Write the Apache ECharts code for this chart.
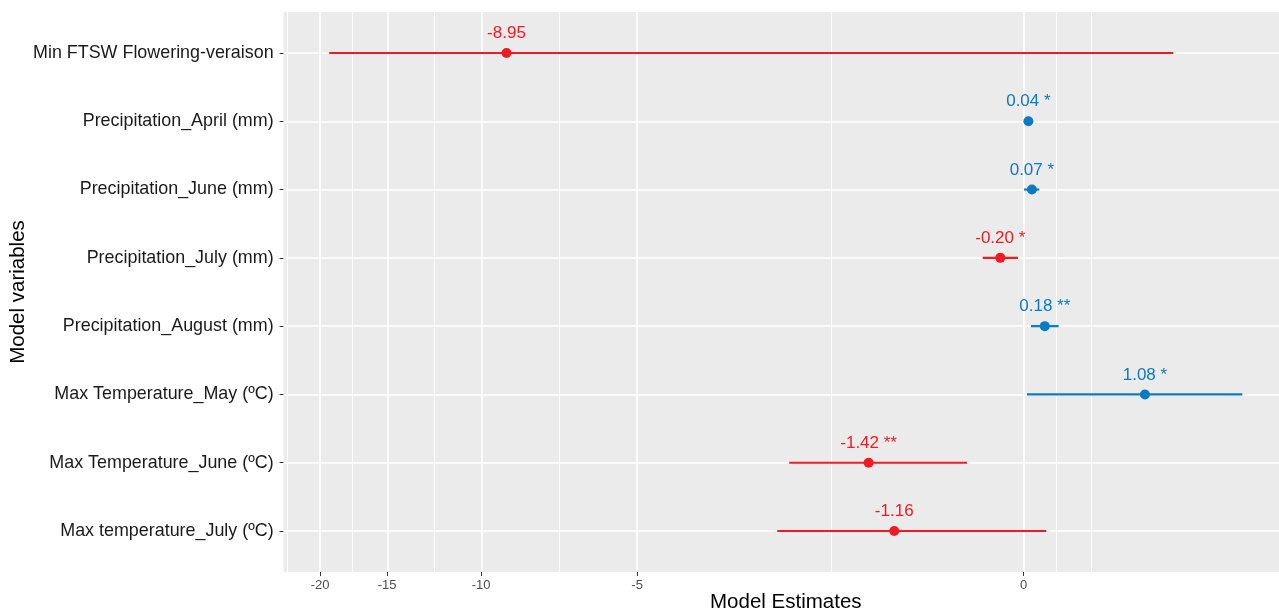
<!DOCTYPE html>
<html><head><meta charset="utf-8">
<script src="https://cdn.jsdelivr.net/npm/echarts@6/dist/echarts.min.js"></script>
<style>html,body{margin:0;padding:0;background:#fff}#c{width:1279px;height:613px}</style>
</head><body><div id="c"></div>
<script>
// ---- data ----
const categories = [
  "Min FTSW Flowering-veraison",
  "Precipitation_April (mm)",
  "Precipitation_June (mm)",
  "Precipitation_July (mm)",
  "Precipitation_August (mm)",
  "Max Temperature_May (ºC)",
  "Max Temperature_June (ºC)",
  "Max temperature_July (ºC)"
];
const estimates = [-8.95, 0.04, 0.07, -0.20, 0.18, 1.08, -1.42, -1.16];
const lower = [-19.23, 0.01, 0.003, -0.351, 0.062, 0.028, -2.347, -2.508];
const upper = [1.363, 0.07, 0.133, -0.049, 0.299, 2.145, -0.488, 0.193];
const significance = ["", "*", "*", "*", "**", "*", "**", ""];
const xTickLabels = [-20, -15, -10, -5, 0];

// ---- pseudo-log (asinh) transform, sigma = 1 ----
const tr = v => Math.asinh(v / 2);
const inv = t => 2 * Math.sinh(t);

const RED = '#ED1C24', BLUE = '#0A7BC2';
const FONT = '"Liberation Sans", Arial, sans-serif';
const colorOf = v => v < 0 ? RED : BLUE;

const allT = lower.concat(upper).map(tr);
const tMin = Math.min(...allT), tMax = Math.max(...allT);
const pad = (tMax - tMin) * 0.05;
const xMin = tMin - pad, xMax = tMax + pad;

const majorT = xTickLabels.map(tr);
const bd = majorT[1] - majorT[0];
const ext = [majorT[0] - bd].concat(majorT, [majorT[majorT.length - 1] + bd]);
const minorT = [];
for (let i = 0; i < ext.length - 1; i++) minorT.push((ext[i] + ext[i + 1]) / 2);
const minorIn = minorT.concat([ext[ext.length - 1]]).filter(t => t > xMin && t < xMax);

const yVals = categories.map((_, i) => i + 1);

const gridLines = []
  .concat(minorIn.map(t => ({ xAxis: t, lineStyle: { color: '#fff', width: 0.9, type: 'solid' } })))
  .concat(majorT.map(t => ({ xAxis: t, lineStyle: { color: '#fff', width: 1.6, type: 'solid' } })))
  .concat(yVals.map(y => ({ yAxis: y, lineStyle: { color: '#fff', width: 1.6, type: 'solid' } })));

const chart = echarts.init(document.getElementById('c'), null, { renderer: 'canvas' });
chart.setOption({
  animation: false,
  backgroundColor: '#fff',
  grid: { left: 283.6, top: 12, bottom: 41, right: -9, show: true, backgroundColor: '#EBEBEB', borderWidth: 0,
          containLabel: false, outerBoundsMode: 'none' },
  xAxis: {
    type: 'value', min: xMin, max: xMax,
    axisLine: { show: false, onZero: false }, splitLine: { show: false },
    axisTick: { show: true, customValues: majorT, length: 4, lineStyle: { color: '#333', width: 1 } },
    axisLabel: { customValues: majorT, formatter: v => String(Math.round(inv(v))), color: '#4D4D4D', fontSize: 13, margin: 7, fontFamily: FONT },
    name: 'Model Estimates', nameLocation: 'middle', nameGap: 20, nameMoveOverlap: false,
    nameTextStyle: { fontSize: 20.5, color: '#000', fontFamily: FONT }
  },
  yAxis: {
    type: 'value', inverse: true, min: 1 - 0.6, max: categories.length + 0.6,
    axisLine: { show: false, onZero: false }, splitLine: { show: false },
    axisTick: { show: true, customValues: yVals, length: 4, lineStyle: { color: '#333', width: 1 } },
    axisLabel: { customValues: yVals, formatter: v => categories[Math.round(v) - 1], color: '#1a1a1a', fontSize: 17.9, margin: 10, fontFamily: FONT },
    name: 'Model variables', nameLocation: 'middle', nameGap: 255, nameRotate: 90, nameMoveOverlap: false,
    nameTextStyle: { fontSize: 20.5, color: '#000', fontFamily: FONT }
  },
  series: [
    {
      type: 'line', data: [], z: 1, silent: true,
      markLine: { silent: true, z: 1, zlevel: 0, symbol: ['none', 'none'], label: { show: false }, animation: false, data: gridLines }
    },
    {
      type: 'custom', z: 3, silent: true,
      renderItem: (params, api) => {
        const y = api.value(0);
        const a = api.coord([api.value(1), y]);
        const b = api.coord([api.value(2), y]);
        return { type: 'line', shape: { x1: a[0], y1: a[1], x2: b[0], y2: b[1] },
          style: { stroke: colorOf(api.value(3)), lineWidth: 2.2, opacity: 1 } };
      },
      data: estimates.map((e, i) => [i + 1, tr(lower[i]), tr(upper[i]), e])
    },
    {
      type: 'scatter', z: 4, symbolSize: 10,
      data: estimates.map((e, i) => ({
        value: [tr(e), i + 1],
        itemStyle: { color: colorOf(e), opacity: 1 },
        label: {
          show: true, position: 'top', distance: 6,
          formatter: e.toFixed(2) + (significance[i] ? ' ' + significance[i] : ''),
          color: colorOf(e), fontSize: 17, fontFamily: FONT
        }
      }))
    }
  ]
});
</script></body></html>
